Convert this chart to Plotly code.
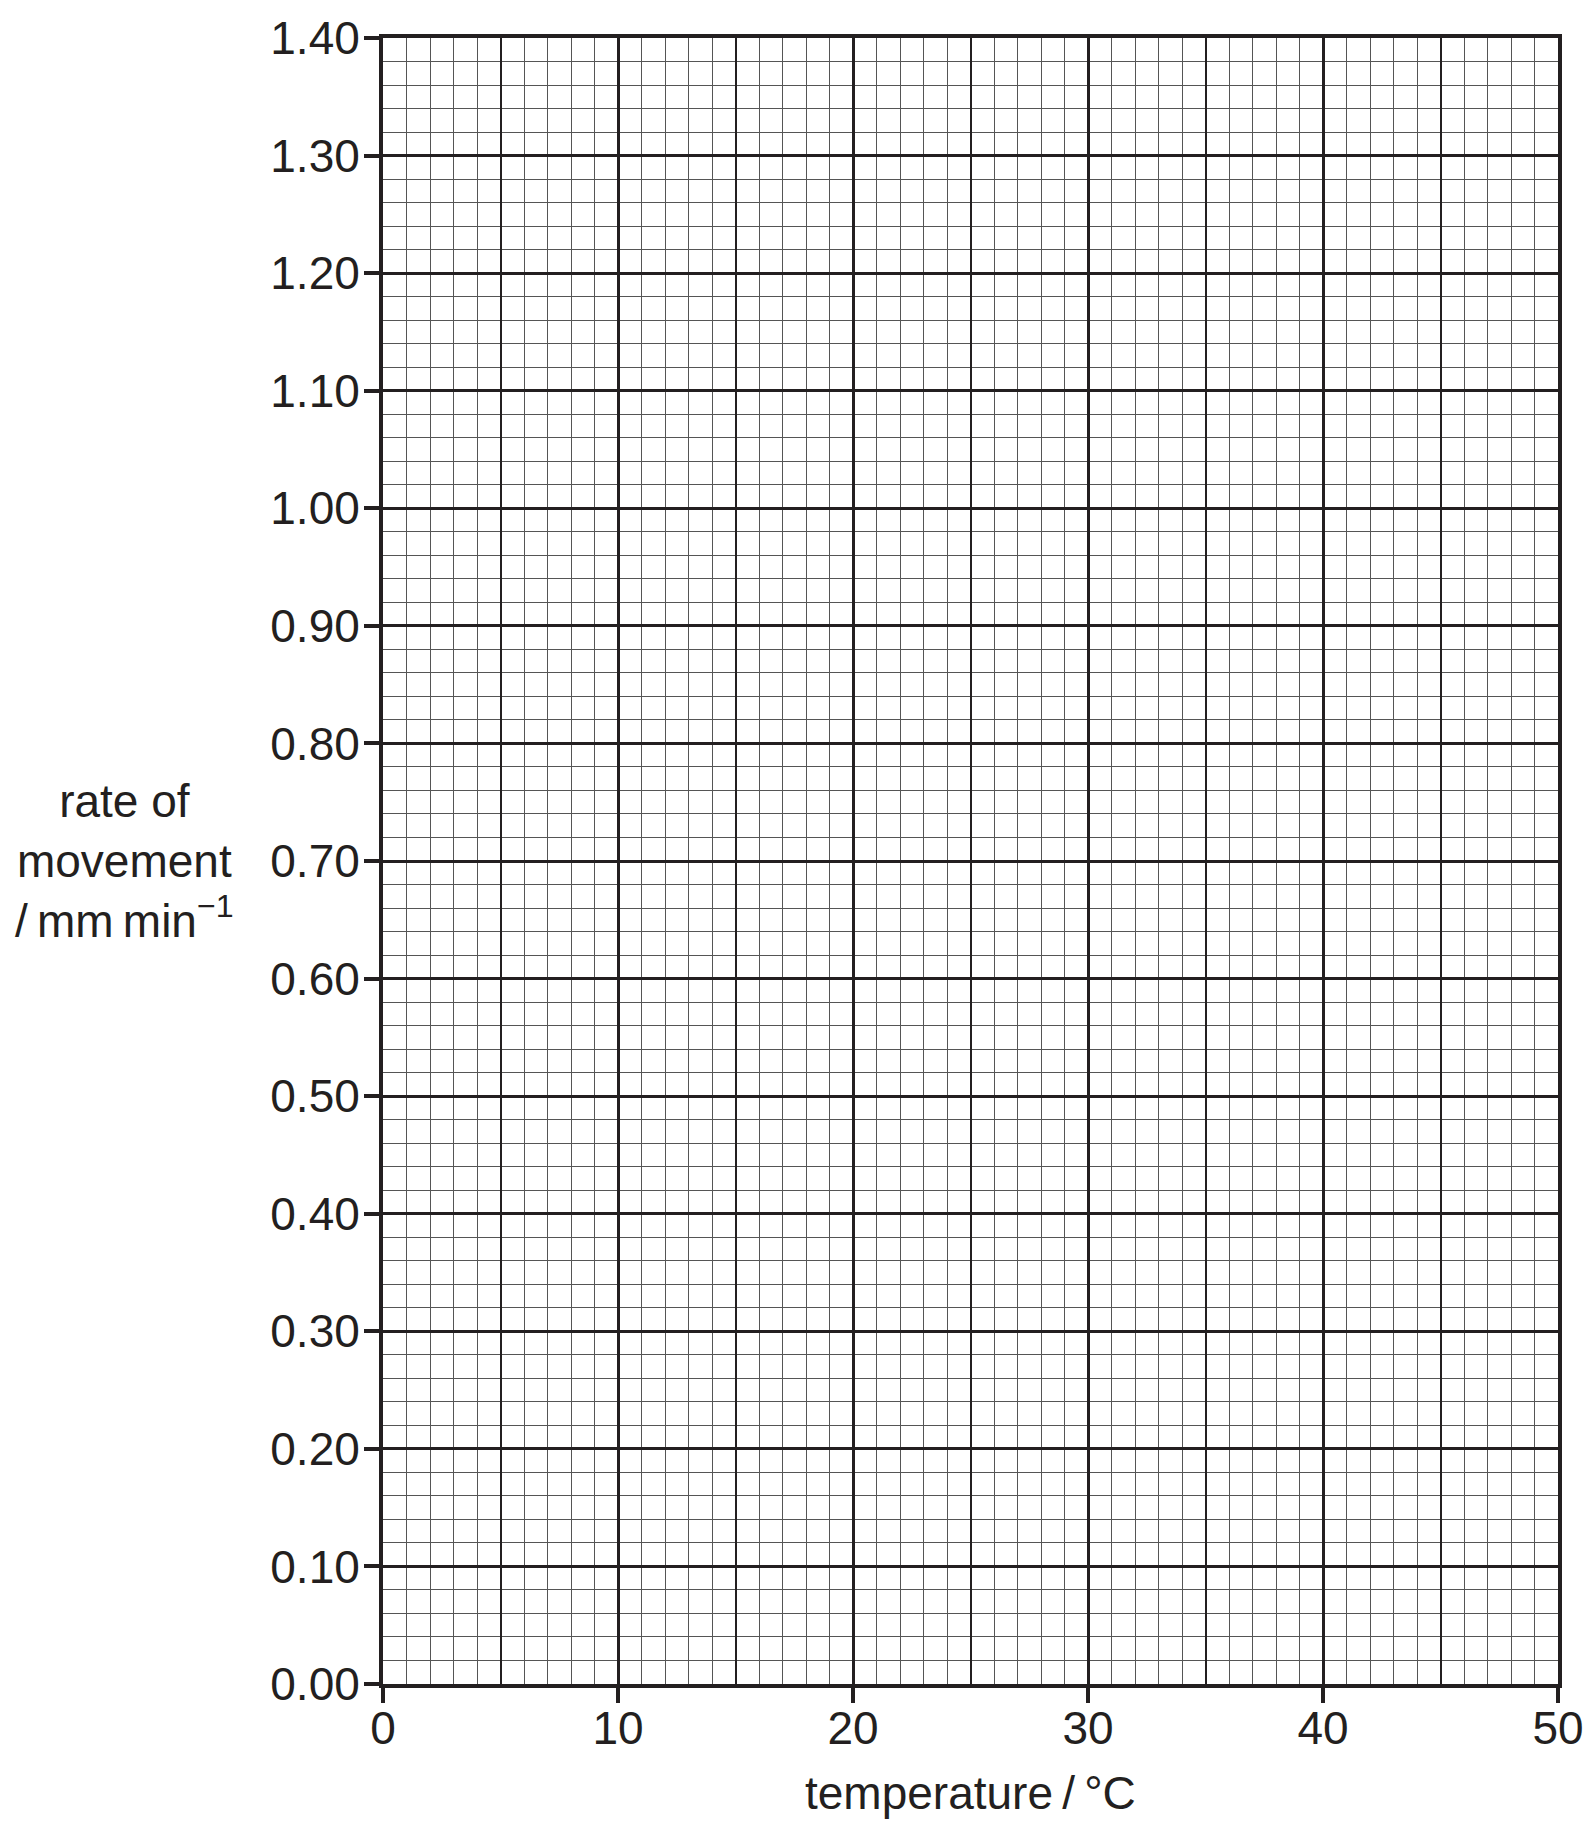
import plotly.graph_objects as go

# axis values
temperature_ticks = [0, 10, 20, 30, 40, 50]
temperature_half_ticks = [5, 15, 25, 35, 45]
rate_ticks = [0.00, 0.10, 0.20, 0.30, 0.40, 0.50, 0.60, 0.70,
              0.80, 0.90, 1.00, 1.10, 1.20, 1.30, 1.40]

x_title = "temperature\u2009/\u2009°C"
y_title = "rate of<br>movement<br>/\u2009mm\u2009min<sup>\u22121</sup>"

INK = "#231f20"
MINOR = "#555555"
FONT = "Liberation Sans, Arial, sans-serif"
SIZE = 46

fig = go.Figure()

# invisible traces so that both x axes are laid out
fig.add_trace(
    go.Scatter(
        x=temperature_ticks,
        y=rate_ticks[:len(temperature_ticks)],
        mode="markers",
        marker=dict(opacity=0),
        hoverinfo="skip",
        showlegend=False
    )
)
fig.add_trace(
    go.Scatter(
        x=temperature_half_ticks,
        y=rate_ticks[:len(temperature_half_ticks)],
        xaxis="x2",
        mode="markers",
        marker=dict(opacity=0),
        hoverinfo="skip",
        showlegend=False
    )
)

fig.update_layout(
    width=1596,
    height=1826,
    margin=dict(l=383, r=33, t=31, b=142),
    plot_bgcolor="white",
    paper_bgcolor="white",
    showlegend=False,
    font=dict(family=FONT, size=SIZE, color=INK),
    xaxis=dict(
        range=[temperature_ticks[0], temperature_ticks[-1]],
        tickvals=temperature_ticks,
        ticks="outside",
        ticklen=15,
        tickwidth=4,
        tickcolor=INK,
        tickfont=dict(family=FONT, size=SIZE, color=INK),
        ticklabelstandoff=-14,
        showline=True,
        linewidth=4,
        linecolor=INK,
        mirror=True,
        showgrid=True,
        gridcolor=INK,
        gridwidth=3,
        zeroline=False,
        minor=dict(
            tickvals=[v for v in range(0, 51) if v % 5],
            showgrid=True,
            gridcolor=MINOR,
            gridwidth=1.3,
            ticks=""
        ),
        fixedrange=True
    ),
    xaxis2=dict(
        overlaying="x",
        anchor="y",
        side="bottom",
        range=[temperature_ticks[0], temperature_ticks[-1]],
        tickvals=temperature_half_ticks,
        showticklabels=False,
        ticks="",
        showline=False,
        showgrid=True,
        gridcolor=INK,
        gridwidth=2,
        zeroline=False,
        fixedrange=True
    ),
    yaxis=dict(
        range=[rate_ticks[0], rate_ticks[-1]],
        tickvals=rate_ticks,
        tickformat=".2f",
        ticks="outside",
        ticklen=15,
        tickwidth=4,
        tickcolor=INK,
        tickfont=dict(family=FONT, size=SIZE, color=INK),
        ticklabelstandoff=-5,
        showline=True,
        linewidth=4,
        linecolor=INK,
        mirror=True,
        showgrid=True,
        gridcolor=INK,
        gridwidth=3,
        zeroline=False,
        minor=dict(
            dtick=0.02,
            tick0=0,
            showgrid=True,
            gridcolor=MINOR,
            gridwidth=1.3,
            ticks=""
        ),
        fixedrange=True
    ),
    annotations=[
        dict(
            text=y_title,
            xref="paper",
            yref="y",
            x=-0.2203,
            y=0.70,
            xanchor="center",
            yanchor="middle",
            align="center",
            showarrow=False,
            font=dict(family=FONT, size=SIZE, color=INK)
        ),
        dict(
            text=x_title,
            xref="paper",
            yref="paper",
            x=0.5,
            y=0,
            xanchor="center",
            yanchor="middle",
            yshift=-109,
            showarrow=False,
            font=dict(family=FONT, size=SIZE, color=INK)
        )
    ]
)

# drop the default page margin so the figure fills the window exactly
fig.write_html(
    "out.html",
    config={"displayModeBar": False},
    post_script="document.body.style.margin = '0px';"
)
